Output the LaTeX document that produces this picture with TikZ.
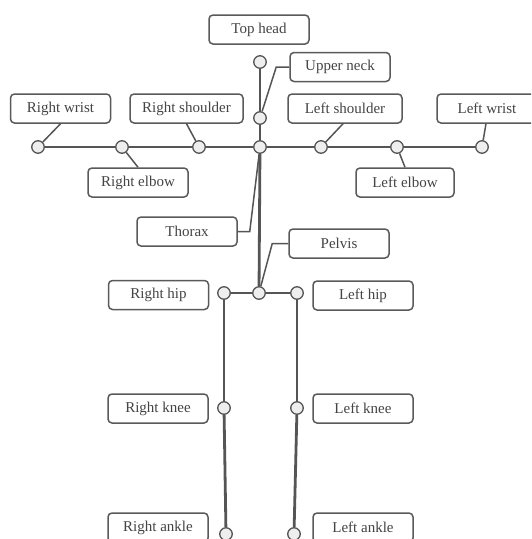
\documentclass[tikz,border=0pt]{standalone}
\usepackage{fontspec}
\setmainfont{Liberation Serif}
\definecolor{bonec}{HTML}{555555}
\definecolor{boxc}{HTML}{5A5A5A}
\definecolor{txtc}{HTML}{444444}
\definecolor{jointfill}{HTML}{EEEEEE}
\begin{document}
\begin{tikzpicture}[x=1pt,y=-1pt,
  lbl/.style={draw=boxc, line width=1.5pt, rounded corners=4pt, fill=white,
    minimum width=100pt, minimum height=29pt, inner sep=0pt, text=txtc,
    font=\fontsize{15}{18}\selectfont},
  joint/.style={circle, draw=bonec, fill=jointfill, line width=1.3pt,
    minimum size=12.5pt, inner sep=0pt},
  bone/.style={draw=bonec, line width=2.8pt},
  leader/.style={draw=bonec, line width=1.5pt}]
\useasboundingbox[fill=white] (0,0) rectangle (531,539);
\clip (0,0) rectangle (531,539);
% joints
\node[joint] (jth) at (260,62) {};
\node[joint] (jun) at (260,118) {};
\node[joint] (jtx) at (260,147) {};
\node[joint] (jpv) at (259,293) {};
\node[joint] (jrh) at (224,293) {};
\node[joint] (jlh) at (297,293) {};
\node[joint] (jrk) at (224,408) {};
\node[joint] (jlk) at (297,408) {};
\node[joint] (jra) at (226,534) {};
\node[joint] (jla) at (294,534) {};
\node[joint] (jrs) at (199,147) {};
\node[joint] (jre) at (122,147) {};
\node[joint] (jrw) at (38,147) {};
\node[joint] (jls) at (321,147) {};
\node[joint] (jle) at (397,147) {};
\node[joint] (jlw) at (482,147) {};
% labels
\node[lbl] (tophead) at (259,29.5) {Top head};
\node[lbl] (upperneck) at (340,67) {Upper neck};
\node[lbl] (rwrist) at (60.5,108.5) {Right wrist};
\node[lbl, minimum width=113pt] (rshoulder) at (186.5,108.5) {Right shoulder};
\node[lbl, minimum width=114pt] (lshoulder) at (345,108.5) {Left shoulder};
\node[lbl] (lwrist) at (487,108.5) {Left wrist};
\node[lbl] (relbow) at (138,182.5) {Right elbow};
\node[lbl, minimum width=98pt] (lelbow) at (405,182.5) {Left elbow};
\node[lbl] (thorax) at (187,231.5) {Thorax};
\node[lbl] (pelvis) at (339,243.5) {Pelvis};
\node[lbl] (rhip) at (158.5,295) {Right hip};
\node[lbl] (lhip) at (363,295.5) {Left hip};
\node[lbl] (rknee) at (158,408.5) {Right knee};
\node[lbl] (lknee) at (363,408.5) {Left knee};
\node[lbl] (rankle) at (158,527.5) {Right ankle};
\node[lbl] (lankle) at (363,527.5) {Left ankle};
% bones
\draw[bone] (jth) -- (jun);
\draw[bone] (jun) -- (jtx);
\draw[bone] (jtx) -- (jpv);
\draw[bone] (jtx) -- (jrs);
\draw[bone] (jrs) -- (jre);
\draw[bone] (jre) -- (jrw);
\draw[bone] (jtx) -- (jls);
\draw[bone] (jls) -- (jle);
\draw[bone] (jle) -- (jlw);
\draw[bone] (jpv) -- (jrh);
\draw[bone] (jpv) -- (jlh);
\draw[bone] (jrh) -- (jrk);
\draw[bone] (jrk) -- (jra);
\draw[bone] (jlh) -- (jlk);
\draw[bone] (jlk) -- (jla);
% leaders
\draw[leader] (upperneck.west) -- ++(-13,0) coordinate (unk) -- (jun);
\draw[leader] (rwrist.south) -- (jrw);
\draw[leader] (rshoulder.south) -- (jrs);
\draw[leader] (relbow.north) -- (jre);
\draw[leader] ([xshift=-2pt]lshoulder.south) -- (jls);
\draw[leader] (lelbow.north) -- (jle);
\draw[leader] ([xshift=-1pt]lwrist.south) -- (jlw);
\draw[leader] (thorax.east) -- ++(12,0) coordinate (txk) -- (jtx);
\draw[leader] (pelvis.west) -- ++(-16,0) coordinate (pvk) -- (jpv);
\end{tikzpicture}
\end{document}
